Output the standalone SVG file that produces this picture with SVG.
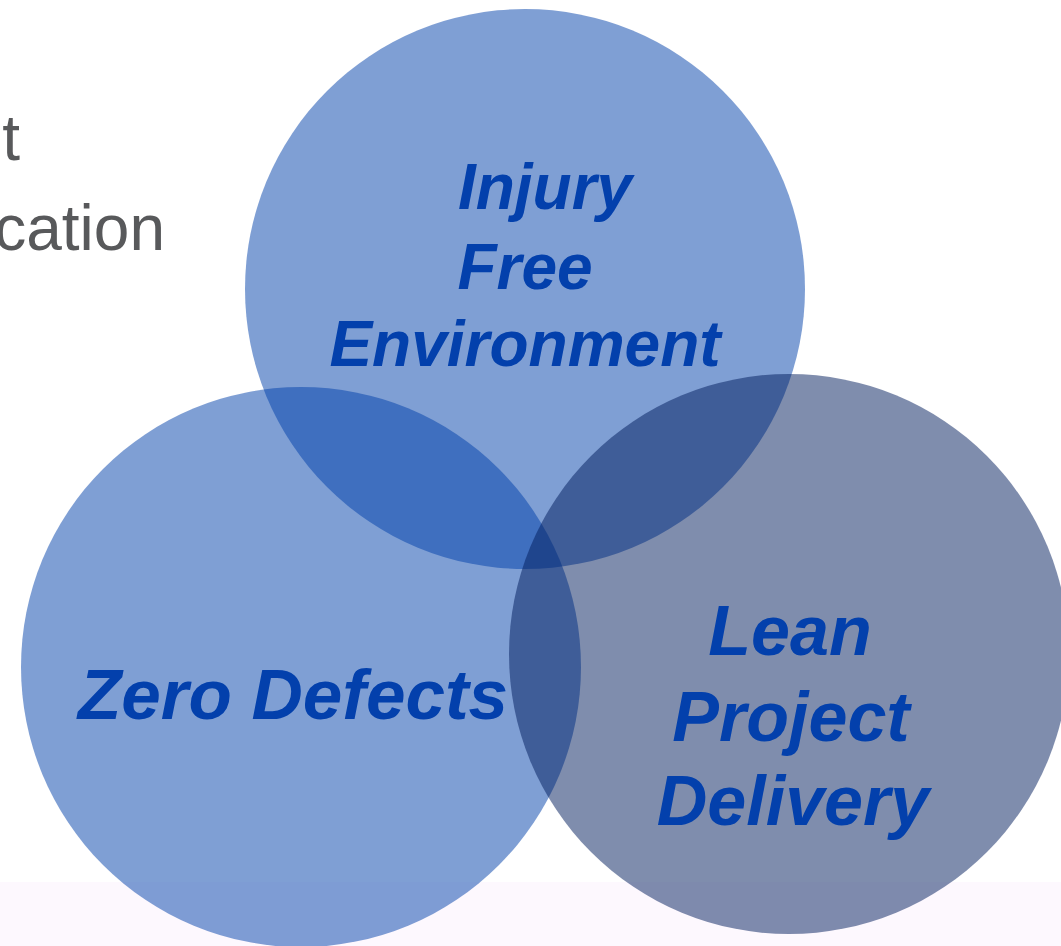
<svg xmlns="http://www.w3.org/2000/svg" width="1061" height="946" viewBox="0 0 1061 946">
<style>
.side{font-family:"Liberation Sans",Arial,sans-serif;font-size:64px;fill:#58595b;text-anchor:end}
.lbl{font-family:"Liberation Sans",Arial,sans-serif;font-weight:bold;font-style:italic;fill:#0340ac;text-anchor:middle}
.c{fill-opacity:0.5}
</style>
<rect width="1061" height="946" fill="#ffffff"/>
<rect x="0" y="882" width="1061" height="64" fill="#fdf8fe"/>
<g id="side-text">
<text class="side" x="20" y="160">t</text>
<text class="side" x="165" y="250">cation</text>
</g>
<g id="connectors"></g>
<g id="node-injury">
<circle class="c" cx="525" cy="289" r="280" fill="#003fa9"/>
</g>
<g id="node-zero">
<circle class="c" cx="301" cy="667" r="280" fill="#003fa9"/>
</g>
<g id="node-lean">
<circle class="c" cx="789" cy="654" r="280" fill="#001b5b"/>
</g>
<g id="labels">
<g class="lbl" font-size="64">
<text x="545" y="209">Injury</text>
<text x="525" y="289">Free</text>
<text x="525" y="366">Environment</text>
</g>
<text class="lbl" font-size="71" x="293" y="719">Zero Defects</text>
<g class="lbl" font-size="70">
<text x="790" y="655">Lean</text>
<text x="791" y="741">Project</text>
<text x="793" y="825">Delivery</text>
</g>
</g>
</svg>
